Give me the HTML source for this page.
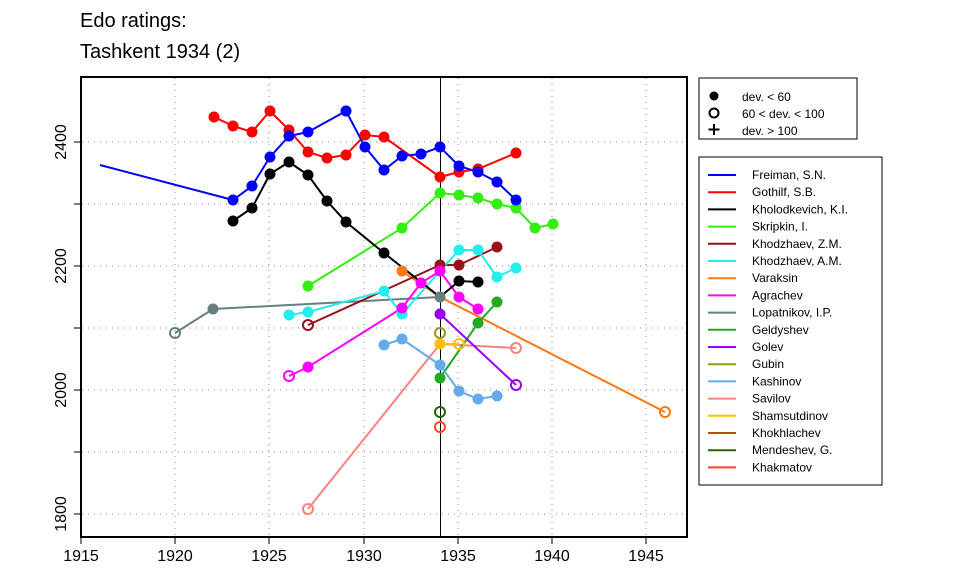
<!DOCTYPE html>
<html><head><style>body{margin:0;background:#fff}svg{display:block}text{font-family:"Liberation Sans",sans-serif}</style></head><body>
<svg width="960" height="576" viewBox="0 0 960 576" xmlns="http://www.w3.org/2000/svg">
<text x="80" y="27" font-size="20">Edo ratings:</text>
<text x="80" y="58" font-size="20">Tashkent 1934 (2)</text>
<g stroke="#888" stroke-dasharray="1 5" stroke-width="1">
<line x1="175" y1="78" x2="175" y2="536"/><line x1="269" y1="78" x2="269" y2="536"/><line x1="364" y1="78" x2="364" y2="536"/><line x1="458" y1="78" x2="458" y2="536"/><line x1="552" y1="78" x2="552" y2="536"/><line x1="646" y1="78" x2="646" y2="536"/>
<line x1="82" y1="142" x2="686" y2="142"/><line x1="82" y1="204" x2="686" y2="204"/><line x1="82" y1="266" x2="686" y2="266"/><line x1="82" y1="328" x2="686" y2="328"/><line x1="82" y1="390" x2="686" y2="390"/><line x1="82" y1="452" x2="686" y2="452"/><line x1="82" y1="514" x2="686" y2="514"/>
</g>
<rect x="81" y="77" width="606" height="460" fill="none" stroke="#000" stroke-width="2"/>
<g stroke="#000" stroke-width="1">
<line x1="81" y1="537" x2="81" y2="544"/><line x1="175" y1="537" x2="175" y2="544"/><line x1="269" y1="537" x2="269" y2="544"/><line x1="364" y1="537" x2="364" y2="544"/><line x1="458" y1="537" x2="458" y2="544"/><line x1="552" y1="537" x2="552" y2="544"/><line x1="646" y1="537" x2="646" y2="544"/>
<line x1="74" y1="142" x2="81" y2="142"/><line x1="74" y1="204" x2="81" y2="204"/><line x1="74" y1="266" x2="81" y2="266"/><line x1="74" y1="328" x2="81" y2="328"/><line x1="74" y1="390" x2="81" y2="390"/><line x1="74" y1="452" x2="81" y2="452"/><line x1="74" y1="514" x2="81" y2="514"/>
</g>
<g font-size="16" text-anchor="middle">
<text x="81" y="561">1915</text><text x="175" y="561">1920</text><text x="269" y="561">1925</text><text x="364" y="561">1930</text><text x="458" y="561">1935</text><text x="552" y="561">1940</text><text x="646" y="561">1945</text>
<text transform="translate(66,142) rotate(-90)">2400</text><text transform="translate(66,266) rotate(-90)">2200</text><text transform="translate(66,390) rotate(-90)">2000</text><text transform="translate(66,514) rotate(-90)">1800</text>
</g>
<line x1="440.5" y1="77" x2="440.5" y2="537" stroke="#000" stroke-width="1"/>
<g fill="none" stroke-width="2">
<polyline stroke="#ff8080" points="308,509 440,344 516,348"/>
<polyline stroke="#ff7711" points="402,271 440,297 665,412"/>
<polyline stroke="#668080" points="175,333 213,309 440,297"/>
<polyline stroke="#99111a" points="308,325 440,265 459,265 497,247"/>
<polyline stroke="#22eeee" points="289,315 308,312 384,291 402,314 440,271 459,250 478,250 497,277 516,268"/>
<polyline stroke="#ff00ff" points="289,376 308,367 402,308 421,283 440,271 459,297 478,309"/>
<polyline stroke="#22aa22" points="440,378 478,323 497,302"/>
<polyline stroke="#9900ee" points="440,314 516,385"/>
<polyline stroke="#66aaee" points="384,345 402,339 440,365 459,391 478,399 497,396"/>
<polyline stroke="#ffc000" points="440,344 459,344"/>
<polyline stroke="#33ee11" points="308,286 402,228 440,193 459,195 478,198 497,204 516,208 535,228 553,224"/>
<polyline stroke="#000" points="233,221 252,208 270,174 289,162 308,175 327,201 346,222 384,253 440,297 459,281 478,282"/>
<polyline stroke="#ff0000" points="214,117 233,126 252,132 270,111 289,130 308,152 327,158 346,155 365,135 384,137 440,177 459,172 478,169 516,153"/>
<polyline stroke="#0000ff" points="100,165 233,200 252,186 270,157 289,136 308,132 346,111 365,147 384,170 402,156 421,154 440,147 459,166 478,172 497,182 516,200"/>
</g>
<g stroke="none">
<g fill="#ff7711"><circle cx="402" cy="271" r="5.5"/></g>
<g fill="#99111a"><circle cx="440" cy="265" r="5.5"/><circle cx="459" cy="265" r="5.5"/><circle cx="497" cy="247" r="5.5"/></g>
<g fill="#22eeee"><circle cx="289" cy="315" r="5.5"/><circle cx="308" cy="312" r="5.5"/><circle cx="384" cy="291" r="5.5"/><circle cx="402" cy="314" r="5.5"/><circle cx="459" cy="250" r="5.5"/><circle cx="478" cy="250" r="5.5"/><circle cx="497" cy="277" r="5.5"/><circle cx="516" cy="268" r="5.5"/></g>
<g fill="#ff00ff"><circle cx="308" cy="367" r="5.5"/><circle cx="402" cy="308" r="5.5"/><circle cx="421" cy="283" r="5.5"/><circle cx="440" cy="271" r="5.5"/><circle cx="459" cy="297" r="5.5"/><circle cx="478" cy="309" r="5.5"/></g>
<g fill="#668080"><circle cx="213" cy="309" r="5.5"/><circle cx="440" cy="297" r="5.5"/></g>
<g fill="#22aa22"><circle cx="440" cy="378" r="5.5"/><circle cx="478" cy="323" r="5.5"/><circle cx="497" cy="302" r="5.5"/></g>
<g fill="#9900ee"><circle cx="440" cy="314" r="5.5"/></g>
<g fill="#66aaee"><circle cx="384" cy="345" r="5.5"/><circle cx="402" cy="339" r="5.5"/><circle cx="440" cy="365" r="5.5"/><circle cx="459" cy="391" r="5.5"/><circle cx="478" cy="399" r="5.5"/><circle cx="497" cy="396" r="5.5"/></g>
<g fill="#ffc000"><circle cx="440" cy="344" r="5.5"/></g>
<g fill="#33ee11"><circle cx="308" cy="286" r="5.5"/><circle cx="402" cy="228" r="5.5"/><circle cx="440" cy="193" r="5.5"/><circle cx="459" cy="195" r="5.5"/><circle cx="478" cy="198" r="5.5"/><circle cx="497" cy="204" r="5.5"/><circle cx="516" cy="208" r="5.5"/><circle cx="535" cy="228" r="5.5"/><circle cx="553" cy="224" r="5.5"/></g>
<g fill="#000"><circle cx="233" cy="221" r="5.5"/><circle cx="252" cy="208" r="5.5"/><circle cx="270" cy="174" r="5.5"/><circle cx="289" cy="162" r="5.5"/><circle cx="308" cy="175" r="5.5"/><circle cx="327" cy="201" r="5.5"/><circle cx="346" cy="222" r="5.5"/><circle cx="384" cy="253" r="5.5"/><circle cx="459" cy="281" r="5.5"/><circle cx="478" cy="282" r="5.5"/></g>
<g fill="#ff0000"><circle cx="214" cy="117" r="5.5"/><circle cx="233" cy="126" r="5.5"/><circle cx="252" cy="132" r="5.5"/><circle cx="270" cy="111" r="5.5"/><circle cx="289" cy="130" r="5.5"/><circle cx="308" cy="152" r="5.5"/><circle cx="327" cy="158" r="5.5"/><circle cx="346" cy="155" r="5.5"/><circle cx="365" cy="135" r="5.5"/><circle cx="384" cy="137" r="5.5"/><circle cx="440" cy="177" r="5.5"/><circle cx="459" cy="172" r="5.5"/><circle cx="478" cy="169" r="5.5"/><circle cx="516" cy="153" r="5.5"/></g>
<g fill="#0000ff"><circle cx="233" cy="200" r="5.5"/><circle cx="252" cy="186" r="5.5"/><circle cx="270" cy="157" r="5.5"/><circle cx="289" cy="136" r="5.5"/><circle cx="308" cy="132" r="5.5"/><circle cx="346" cy="111" r="5.5"/><circle cx="365" cy="147" r="5.5"/><circle cx="384" cy="170" r="5.5"/><circle cx="402" cy="156" r="5.5"/><circle cx="421" cy="154" r="5.5"/><circle cx="440" cy="147" r="5.5"/><circle cx="459" cy="166" r="5.5"/><circle cx="478" cy="172" r="5.5"/><circle cx="497" cy="182" r="5.5"/><circle cx="516" cy="200" r="5.5"/></g>
</g>
<g fill="none" stroke-width="2">
<circle cx="308" cy="509" r="5" stroke="#ff8080"/><circle cx="516" cy="348" r="5" stroke="#ff8080"/>
<circle cx="665" cy="412" r="5" stroke="#ff7711"/>
<circle cx="175" cy="333" r="5" stroke="#668080"/>
<circle cx="308" cy="325" r="5" stroke="#99111a"/>
<circle cx="289" cy="376" r="5" stroke="#ff00ff"/>
<circle cx="516" cy="385" r="5" stroke="#9900ee"/>
<circle cx="440" cy="333" r="5" stroke="#999911"/>
<circle cx="459" cy="344" r="5" stroke="#ffc000"/>
<circle cx="440" cy="412" r="5" stroke="#226600"/>
<circle cx="440" cy="427" r="5" stroke="#ff4422"/>
</g>
<rect x="699" y="78" width="158" height="61" fill="#fff" stroke="#000"/>
<circle cx="714" cy="96" r="4.5" fill="#000"/>
<circle cx="714" cy="113" r="4.5" fill="none" stroke="#000" stroke-width="2"/>
<path d="M714 124v11M708.5 129.5h11" stroke="#000" stroke-width="2"/>
<g font-size="12"><text x="742" y="101">dev. &lt; 60</text><text x="742" y="118">60 &lt; dev. &lt; 100</text><text x="742" y="135">dev. &gt; 100</text></g>
<rect x="699" y="157" width="183" height="328" fill="#fff" stroke="#000"/>
<g stroke-width="2">
<line x1="708" x2="736" y1="175" y2="175" stroke="#0000ff"/>
<line x1="708" x2="736" y1="192.2" y2="192.2" stroke="#ff0000"/>
<line x1="708" x2="736" y1="209.4" y2="209.4" stroke="#000"/>
<line x1="708" x2="736" y1="226.6" y2="226.6" stroke="#33ee11"/>
<line x1="708" x2="736" y1="243.8" y2="243.8" stroke="#99111a"/>
<line x1="708" x2="736" y1="261" y2="261" stroke="#22eeee"/>
<line x1="708" x2="736" y1="278.2" y2="278.2" stroke="#ff7711"/>
<line x1="708" x2="736" y1="295.4" y2="295.4" stroke="#ff00ff"/>
<line x1="708" x2="736" y1="312.6" y2="312.6" stroke="#668080"/>
<line x1="708" x2="736" y1="329.8" y2="329.8" stroke="#22aa22"/>
<line x1="708" x2="736" y1="347" y2="347" stroke="#9900ee"/>
<line x1="708" x2="736" y1="364.2" y2="364.2" stroke="#999911"/>
<line x1="708" x2="736" y1="381.4" y2="381.4" stroke="#66aaee"/>
<line x1="708" x2="736" y1="398.6" y2="398.6" stroke="#ff8080"/>
<line x1="708" x2="736" y1="415.8" y2="415.8" stroke="#ffc000"/>
<line x1="708" x2="736" y1="433" y2="433" stroke="#b8520a"/>
<line x1="708" x2="736" y1="450.2" y2="450.2" stroke="#226600"/>
<line x1="708" x2="736" y1="467.4" y2="467.4" stroke="#ff4422"/>
</g>
<g font-size="12">
<text x="752" y="179">Freiman, S.N.</text><text x="752" y="196.2">Gothilf, S.B.</text><text x="752" y="213.4">Kholodkevich, K.I.</text><text x="752" y="230.6">Skripkin, I.</text><text x="752" y="247.8">Khodzhaev, Z.M.</text><text x="752" y="265">Khodzhaev, A.M.</text><text x="752" y="282.2">Varaksin</text><text x="752" y="299.4">Agrachev</text><text x="752" y="316.6">Lopatnikov, I.P.</text><text x="752" y="333.8">Geldyshev</text><text x="752" y="351">Golev</text><text x="752" y="368.2">Gubin</text><text x="752" y="385.4">Kashinov</text><text x="752" y="402.6">Savilov</text><text x="752" y="419.8">Shamsutdinov</text><text x="752" y="437">Khokhlachev</text><text x="752" y="454.2">Mendeshev, G.</text><text x="752" y="471.4">Khakmatov</text>
</g>
</svg>
</body></html>
